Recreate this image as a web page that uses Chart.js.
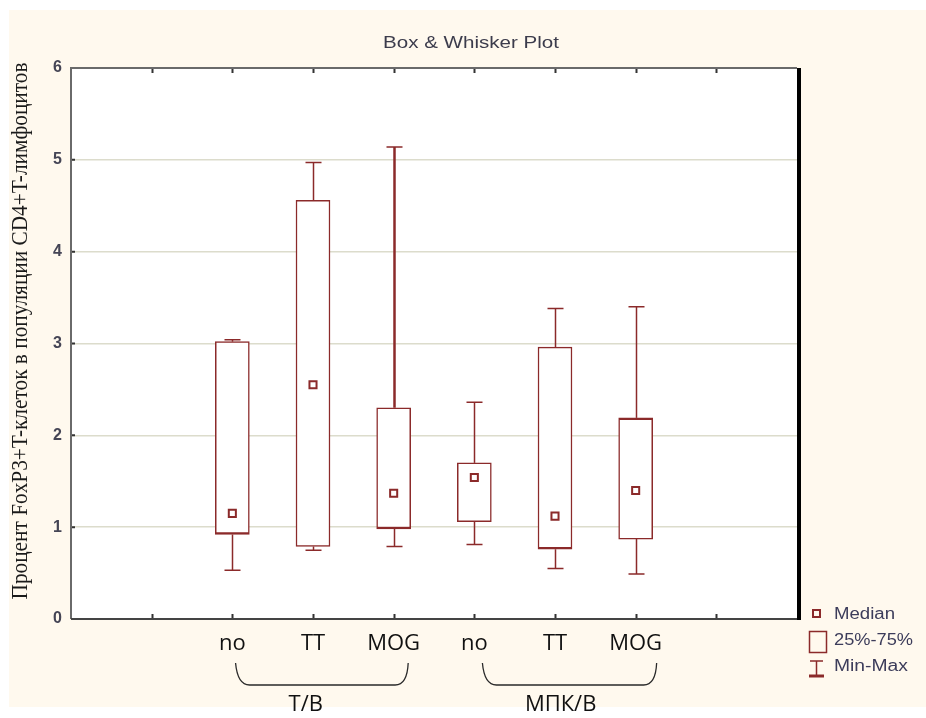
<!DOCTYPE html>
<html>
<head>
<meta charset="utf-8">
<title>Box & Whisker Plot</title>
<script src="https://cdn.jsdelivr.net/npm/chart.js@4.4.1/dist/chart.umd.min.js"></script>
<style>
  html, body { margin: 0; padding: 0; background: #ffffff; }
  canvas { display: block; }
</style>
</head>
<body>
<canvas id="boxplot" width="926" height="718"></canvas>
<script>
// Groups sit on slots 2..7 of a 0..9 linear x axis (slots 1 and 8 stay empty)
const slots = [2, 3, 4, 5, 6, 7];
const groupLabels = ['no', 'TT', 'MOG', 'no', 'TT', 'MOG'];
const clusterNames = ['Т/В', 'МПК/В'];
const clusterSpans = [[2.04, 4.18], [5.1, 7.26]];
const clusterCenters = [2.91, 6.07];

// % FoxP3+ cells, per group
const minVals    = [0.53, 0.75, 0.79, 0.81, 0.55, 0.49];
const q1Vals     = [0.92, 0.79, 0.98, 1.06, 0.76, 0.87];
const medianVals = [1.15, 2.55, 1.37, 1.54, 1.12, 1.40];
const q3Vals     = [3.02, 4.56, 2.30, 1.70, 2.96, 2.19];
const maxVals    = [3.04, 4.97, 5.14, 2.36, 3.38, 3.40];

const yTicks = [0, 1, 2, 3, 4, 5, 6];

const RED = '#8b2a2a';
const CREAM = '#fff9ee';

// heavier box edges / whiskers where the original plot has them
const boxEdges = [
    { bottom: 2.5 }, {}, { bottom: 2.5 }, {}, { bottom: 2.5 }, { top: 2.5 }
];
const upperWhiskerWidth = [1.5, 1.5, 2.5, 1.5, 1.5, 1.5];

function stretchedText(ctx, text, x, y, width) {
    const w = ctx.measureText(text).width;
    ctx.save();
    ctx.translate(x, y);
    ctx.scale(width / w, 1);
    ctx.textAlign = 'center';
    ctx.fillText(text, 0, 0);
    ctx.restore();
}

const decorations = {
    id: 'decorations',
    beforeDraw(chart) {
        const { ctx, chartArea: a } = chart;
        ctx.save();
        ctx.fillStyle = '#ffffff';
        ctx.fillRect(0, 0, chart.width, chart.height);
        ctx.fillStyle = CREAM;
        ctx.fillRect(9, 10, chart.width - 9, 697);
        ctx.fillStyle = '#ffffff';
        ctx.fillRect(a.left, a.top, a.right - a.left, a.bottom - a.top);
        ctx.restore();
    },
    beforeDatasetsDraw(chart) {
        // whiskers go under the boxes
        const { ctx } = chart;
        const x = chart.scales.x, y = chart.scales.y;
        ctx.save();
        ctx.strokeStyle = RED;
        slots.forEach((s, i) => {
            const px = Math.round(x.getPixelForValue(s)) + 0.5;
            const yMin = y.getPixelForValue(minVals[i]);
            const yMax = y.getPixelForValue(maxVals[i]);
            ctx.lineWidth = 1.5;
            ctx.beginPath();
            ctx.moveTo(px, yMin);
            ctx.lineTo(px, y.getPixelForValue(q1Vals[i]));
            ctx.moveTo(px - 8, yMin);
            ctx.lineTo(px + 8, yMin);
            ctx.moveTo(px - 8, yMax);
            ctx.lineTo(px + 8, yMax);
            ctx.stroke();
            ctx.lineWidth = upperWhiskerWidth[i];
            ctx.beginPath();
            ctx.moveTo(px, yMax);
            ctx.lineTo(px, y.getPixelForValue(q3Vals[i]));
            ctx.stroke();
        });
        ctx.restore();
    },
    afterDraw(chart) {
        const { ctx, chartArea: a } = chart;
        const x = chart.scales.x;
        ctx.save();

        // inner tick marks along top and bottom, and on the left edge
        ctx.strokeStyle = '#333';
        ctx.lineWidth = 2;
        ctx.beginPath();
        for (let k = 1; k <= 8; k++) {
            const px = Math.round(x.getPixelForValue(k)) + 0.5;
            ctx.moveTo(px, a.top);
            ctx.lineTo(px, a.top + 5);
            ctx.moveTo(px, a.bottom);
            ctx.lineTo(px, a.bottom - 5);
        }
        yTicks.forEach(v => {
            const py = chart.scales.y.getPixelForValue(v);
            ctx.moveTo(a.left, py);
            ctx.lineTo(a.left + 4, py);
        });
        ctx.stroke();

        // frame
        ctx.lineWidth = 2;
        ctx.strokeStyle = '#6a6a6a';
        ctx.beginPath();
        ctx.moveTo(a.left, a.bottom);
        ctx.lineTo(a.left, a.top);
        ctx.lineTo(a.right, a.top);
        ctx.stroke();
        ctx.strokeStyle = '#444';
        ctx.beginPath();
        ctx.moveTo(a.left, a.bottom);
        ctx.lineTo(a.right, a.bottom);
        ctx.stroke();
        ctx.strokeStyle = '#000';
        ctx.lineWidth = 4;
        ctx.beginPath();
        ctx.moveTo(a.right + 2, a.top);
        ctx.lineTo(a.right + 2, a.bottom + 1);
        ctx.stroke();

        // title
        ctx.fillStyle = '#3c3c4c';
        ctx.font = '16px "Liberation Sans", Arial, sans-serif';
        ctx.textBaseline = 'middle';
        stretchedText(ctx, 'Box & Whisker Plot', (a.left + a.right) / 2 + 37, 44, 176);

        // y axis title, rotated
        ctx.save();
        ctx.fillStyle = '#1a1a1a';
        ctx.font = '24px "Liberation Serif", "Times New Roman", serif';
        ctx.textBaseline = 'alphabetic';
        ctx.translate(27, 331);
        ctx.rotate(-Math.PI / 2);
        stretchedText(ctx, 'Процент FoxP3+T-клеток в популяции CD4+T-лимфоцитов', 0, 0, 537);
        ctx.restore();

        // group braces and their names
        ctx.strokeStyle = '#2a2a2a';
        ctx.lineWidth = 1.3;
        clusterSpans.forEach(([from, to]) => {
            const x0 = x.getPixelForValue(from), x1 = x.getPixelForValue(to);
            ctx.beginPath();
            ctx.moveTo(x0, 663);
            ctx.quadraticCurveTo(x0 + 2, 685, x0 + 14, 685);
            ctx.lineTo(x1 - 13, 685);
            ctx.quadraticCurveTo(x1 - 1, 685, x1, 663);
            ctx.stroke();
        });
        ctx.fillStyle = '#111';
        ctx.font = '22px "Open Sans", sans-serif';
        ctx.textAlign = 'center';
        ctx.textBaseline = 'middle';
        clusterNames.forEach((name, i) => {
            ctx.fillText(name, x.getPixelForValue(clusterCenters[i]), 705);
        });

        // legend
        ctx.strokeStyle = RED;
        ctx.lineWidth = 2;
        ctx.strokeRect(813, 610, 7, 7);
        ctx.lineWidth = 1.5;
        ctx.strokeRect(809.5, 631.5, 17, 21);
        ctx.beginPath();
        ctx.moveTo(816.5, 661);
        ctx.lineTo(816.5, 676);
        ctx.moveTo(810, 661);
        ctx.lineTo(823, 661);
        ctx.stroke();
        ctx.lineWidth = 3;
        ctx.beginPath();
        ctx.moveTo(809, 676);
        ctx.lineTo(824, 676);
        ctx.stroke();

        ctx.fillStyle = '#3c3c5a';
        ctx.font = '16px "Liberation Sans", Arial, sans-serif';
        ctx.textAlign = 'left';
        ctx.textBaseline = 'middle';
        [['Median', 615, 61], ['25%-75%', 641, 79], ['Min-Max', 667, 74]].forEach(([t, ty, tw]) => {
            const w = ctx.measureText(t).width;
            ctx.save();
            ctx.translate(834, ty);
            ctx.scale(tw / w, 1);
            ctx.fillText(t, 0, 0);
            ctx.restore();
        });
        ctx.restore();
    }
};

const boxes = slots.map((s, i) => ({ x: s, y: [q1Vals[i], q3Vals[i]] }));
const medians = slots.map((s, i) => ({ x: s, y: medianVals[i] }));

new Chart(document.getElementById('boxplot'), {
    type: 'bar',
    data: {
        datasets: [{
            label: 'Median',
            type: 'scatter',
            data: medians,
            pointStyle: 'rect',
            pointRadius: 5,
            pointBorderWidth: 2,
            pointBorderColor: RED,
            pointBackgroundColor: '#ffffff',
            order: 0
        }, {
            label: '25%-75%',
            data: boxes,
            barThickness: 34,
            backgroundColor: '#ffffff',
            borderColor: RED,
            borderSkipped: false,
            borderWidth: (c) => Object.assign({ top: 1.5, bottom: 1.5, left: 1.5, right: 1.5 }, boxEdges[c.dataIndex]),
            order: 1
        }]
    },
    options: {
        responsive: false,
        animation: false,
        layout: { padding: { top: 68, right: 129, bottom: 0, left: 0 } },
        plugins: {
            legend: { display: false },
            tooltip: { enabled: false }
        },
        scales: {
            x: {
                type: 'linear',
                offset: false,
                min: 0,
                max: 9,
                afterFit: (s) => { s.height = 99; },
                grid: { display: false, drawTicks: false, offset: false },
                border: { display: false },
                ticks: {
                    stepSize: 1,
                    autoSkip: false,
                    maxRotation: 0,
                    padding: 12,
                    color: '#111',
                    font: { family: '"Open Sans", sans-serif', size: 22 },
                    callback: (v) => {
                        const i = slots.indexOf(v);
                        return i >= 0 ? groupLabels[i] : '';
                    }
                }
            },
            y: {
                min: yTicks[0],
                max: yTicks[yTicks.length - 1],
                afterFit: (s) => { s.width = 71; },
                grid: { color: '#dcdccc', lineWidth: 1.5, drawTicks: false },
                border: { display: false },
                ticks: {
                    stepSize: 1,
                    padding: 9,
                    color: '#454555',
                    font: { family: '"Liberation Sans", Arial, sans-serif', size: 16, weight: 'bold' }
                }
            }
        }
    },
    plugins: [decorations]
});
</script>
</body>
</html>
